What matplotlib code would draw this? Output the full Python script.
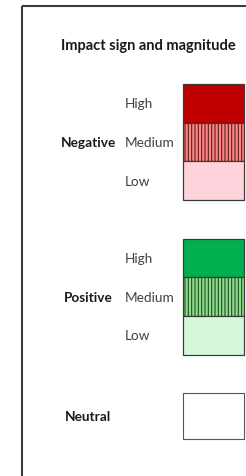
import matplotlib
matplotlib.use('Agg')
import matplotlib.pyplot as plt
from matplotlib.patches import Rectangle

plt.rcParams['font.family'] = ['Lato', 'DejaVu Sans']
plt.rcParams['hatch.linewidth'] = 0.8

title = 'Impact sign and magnitude'
groups = ['Negative', 'Positive']
levels = ['High', 'Medium', 'Low']
group_colors = {
    'Negative': ['#C00000', '#FF8585', '#FFD3DB'],
    'Positive': ['#00B050', '#8FDC8F', '#D3F7D8'],
}
hatch_colors = {'Negative': '#5a2020', 'Positive': '#1d4d1d'}
level_hatch = ['', '|||||', '']
neutral_label = 'Neutral'
neutral_color = '#FFFFFF'

fig = plt.figure(figsize=(2.46, 4.76), dpi=100)
ax = fig.add_axes([0, 0, 1, 1])
ax.set_xlim(0, 246)
ax.set_ylim(476, 0)
ax.axis('off')

# frame (open on right and bottom like the crop)
ax.add_patch(Rectangle((22, 6), 300, 600, fill=False, edgecolor='#3a3a3a', lw=1.5))

ax.text(148.5, 46, title, fontsize=10.5, fontweight='bold', ha='center', va='center', color='#1a1a1a')

row_h = 38.7
top = 84
box_x, box_w = 183, 61
for g, grp in enumerate(groups):
    y0 = top + g * (3 * row_h + 38.5)
    for i, lev in enumerate(levels):
        yc = y0 + row_h * (i + 0.5)
        ax.barh(yc, box_w, height=row_h, left=box_x, color=group_colors[grp][i],
                edgecolor=hatch_colors[grp] if level_hatch[i] else '#3a3a3a',
                hatch=level_hatch[i], lw=0.8)
        ax.text(125, yc + 1, lev, fontsize=9.8, ha='left', va='center', color='#404040')
        # redraw outline in dark gray
        ax.add_patch(Rectangle((box_x, yc - row_h / 2), box_w, row_h, fill=False,
                               edgecolor='#3a3a3a', lw=0.8))
    ax.text(88, y0 + row_h * 1.5 + 1, grp, fontsize=9.8, fontweight='bold',
            ha='center', va='center', color='#1a1a1a')

ny0 = top + 2 * (3 * row_h + 38.5)
ax.barh(ny0 + 23, box_w, height=46, left=box_x, color=neutral_color,
        edgecolor='#555555', lw=0.8)
ax.text(88, ny0 + 24, neutral_label, fontsize=9.8, fontweight='bold',
        ha='center', va='center', color='#1a1a1a')

fig.savefig('out.png', dpi=100)
